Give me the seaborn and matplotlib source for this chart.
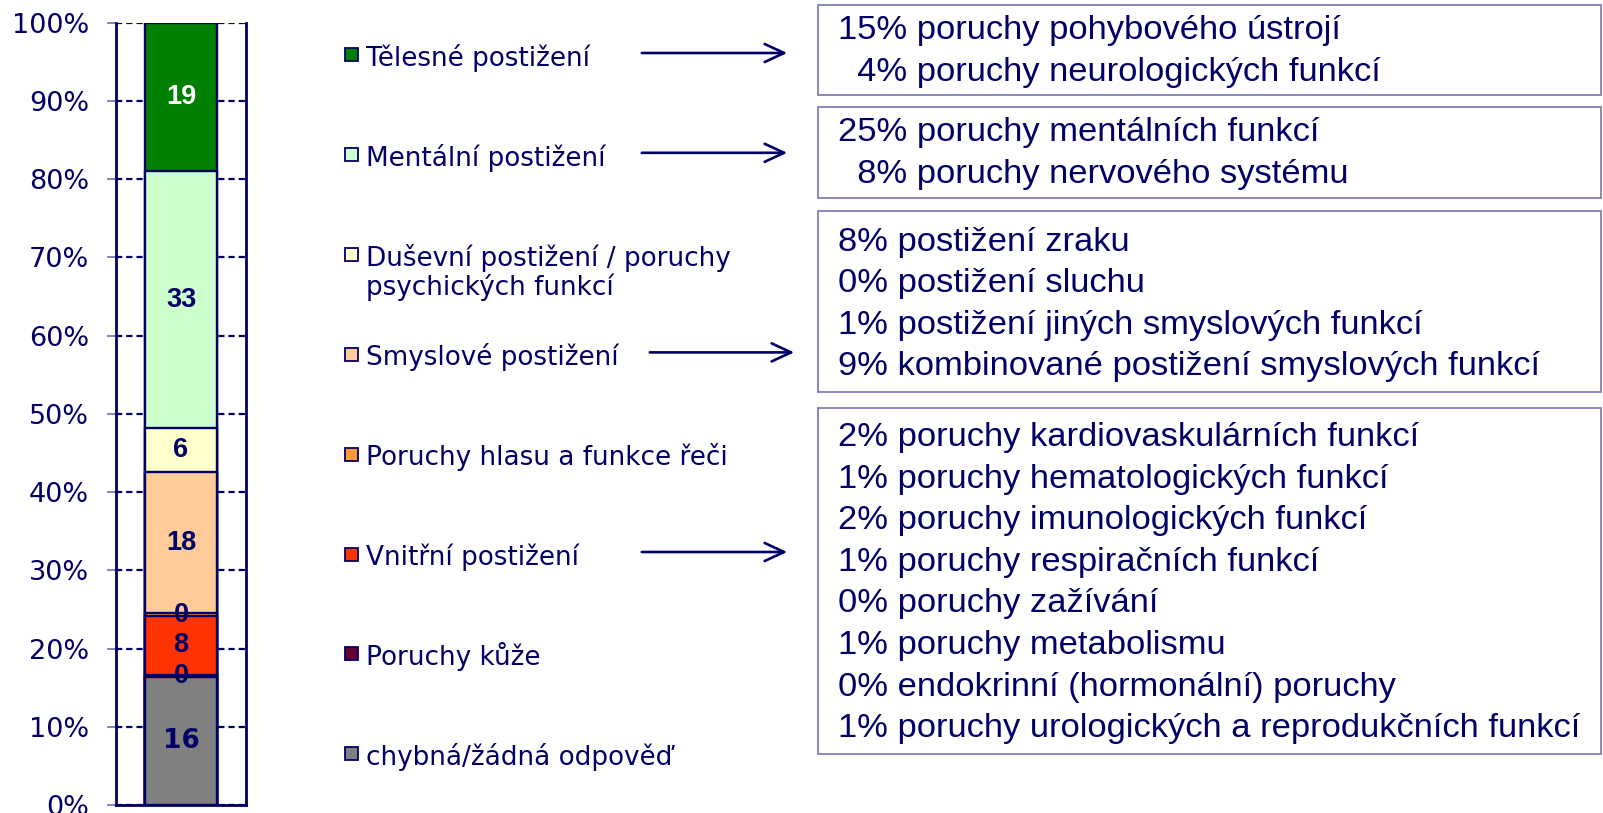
import numpy as np
import pandas as pd
import seaborn as sns
import matplotlib
matplotlib.use("Agg")
import matplotlib.pyplot as plt
from matplotlib.patches import Rectangle, FancyArrowPatch
from matplotlib.ticker import FuncFormatter, FixedLocator

# ---------------- data ----------------
categories = [
    "chybná/žádná odpověď",
    "Poruchy kůže",
    "Vnitřní postižení",
    "Poruchy hlasu a funkce řeči",
    "Smyslové postižení",
    "Duševní postižení / poruchy\npsychických funkcí",
    "Mentální postižení",
    "Tělesné postižení",
]
values = [16.4, 0.2, 7.6, 0.3, 18.1, 5.6, 32.8, 19.0]
colors = ["#808080", "#660033", "#FF3300", "#FF9933", "#FFCC99", "#FFFFCC", "#CCFFCC", "#008000"]
y_ticks = [0, 10, 20, 30, 40, 50, 60, 70, 80, 90, 100]

telesne_pct = [15, 4]
telesne_items = ["poruchy pohybového ústrojí", "poruchy neurologických funkcí"]
mentalni_pct = [25, 8]
mentalni_items = ["poruchy mentálních funkcí", "poruchy nervového systému"]
smyslove_pct = [8, 0, 1, 9]
smyslove_items = ["postižení zraku", "postižení sluchu", "postižení jiných smyslových funkcí",
                  "kombinované postižení smyslových funkcí"]
vnitrni_pct = [2, 1, 2, 1, 0, 1, 0, 1]
vnitrni_items = ["poruchy kardiovaskulárních funkcí", "poruchy hematologických funkcí",
                 "poruchy imunologických funkcí", "poruchy respiračních funkcí",
                 "poruchy zažívání", "poruchy metabolismu", "endokrinní (hormonální) poruchy",
                 "poruchy urologických a reprodukčních funkcí"]

# ---------------- style ----------------
sns.set_theme(style="white")
plt.rcParams["font.family"] = ["DejaVu Sans"]
NAVY = "#000066"
W, H = 1603, 813

def fx(x):
    return x / W

def fy(y):
    return 1 - y / H

fig = plt.figure(figsize=(W / 100, H / 100), dpi=100)
fig.patch.set_facecolor("white")

ax = fig.add_axes([fx(116), fy(805), 130 / W, (805 - 22.7) / H])

cum = np.cumsum(values)
df = pd.DataFrame({"group": ["all"] * len(categories), "cat": categories, "cum": cum})
sns.barplot(data=df, x="group", y="cum", hue="cat", hue_order=categories[::-1],
            palette=dict(zip(categories, colors)), dodge=False, width=0.554,
            edgecolor=NAVY, linewidth=1.7, saturation=1, errorbar=None,
            legend=False, ax=ax)

ax.set_xlim(-0.5, 0.5)
ax.set_ylim(0, 100)
ax.set_xlabel("")
ax.set_ylabel("")
ax.set_xticks([])
ax.yaxis.set_major_locator(FixedLocator(y_ticks))
ax.yaxis.set_major_formatter(FuncFormatter(lambda v, p: f"{v:.0f}%"))
ax.tick_params(axis="y", left=True, right=False, length=6.5, width=1.2, color="#7070A8",
               pad=13, labelsize=19.5, labelcolor=NAVY)
ax.set_axisbelow(True)
ax.yaxis.grid(True, linestyle=(0, (2.8, 1.8)), color=NAVY, linewidth=1.6)
ax.xaxis.grid(False)
for s in ["left", "right", "bottom"]:
    ax.spines[s].set_visible(True)
    ax.spines[s].set_color(NAVY)
    ax.spines[s].set_linewidth(2.0)
ax.spines["top"].set_visible(False)

# segment labels
for i, (v, c) in enumerate(zip(values, cum)):
    col = "white" if colors[i] == "#008000" else NAVY
    fam = "DejaVu Sans" if i == 0 else "Liberation Sans"
    size = 19 if i == 0 else 19.5
    ax.text(0, c - v / 2, f"{v:.0f}", ha="center", va="center", color=col,
            fontsize=size, fontweight="bold", family=fam, zorder=5)

# ---------------- legend ----------------
leg_y0, leg_dy = 55, 99.8
legend_y = {}
for i, (cat, col) in enumerate(zip(categories[::-1], colors[::-1])):
    y = leg_y0 + i * leg_dy
    legend_y[cat] = y
    fig.patches.append(Rectangle((fx(344.5), fy(y + 6.5)), 13 / W, 13 / H,
                                 transform=fig.transFigure, facecolor=col,
                                 edgecolor=NAVY, linewidth=1.3))
    for j, line in enumerate(cat.split("\n")):
        fig.text(fx(366), fy(y + j * 30), line, ha="left", va="center_baseline",
                 fontsize=18.9, color=NAVY, family="DejaVu Sans")

# ---------------- breakdown boxes ----------------
boxes = [
    ("Tělesné postižení", telesne_pct, telesne_items, 5, 95, 31, (639, 790)),
    ("Mentální postižení", mentalni_pct, mentalni_items, 107, 198, 133, (639, 790)),
    ("Smyslové postižení", smyslove_pct, smyslove_items, 211, 392, 242, (647, 797)),
    ("Vnitřní postižení", vnitrni_pct, vnitrni_items, 408, 754, 437.5, (639, 790)),
]
row_dy = 41.6
for cat, pcts, items, top, bot, first, (ax0, ax1) in boxes:
    fig.patches.append(Rectangle((fx(818), fy(bot)), (1601 - 818) / W, (bot - top) / H,
                                 transform=fig.transFigure, facecolor="white",
                                 edgecolor="#8080B4", linewidth=1.3))
    wide = max(pcts) >= 10
    for k, (p, name) in enumerate(zip(pcts, items)):
        pre = "  " if (wide and p < 10) else ""
        fig.text(fx(838), fy(first + k * row_dy), f"{pre}{p}% {name}", ha="left",
                 va="center", fontsize=24.8, color=NAVY, family="Liberation Sans")
    ya = fy(legend_y[cat] - 2)
    fig.add_artist(FancyArrowPatch(
        (fx(ax0), ya), (fx(ax1), ya), transform=fig.transFigure,
        arrowstyle="->,head_length=1.4,head_width=0.65", mutation_scale=10,
        color=NAVY, linewidth=1.9))

fig.savefig("out.png", dpi=100, facecolor="white")
